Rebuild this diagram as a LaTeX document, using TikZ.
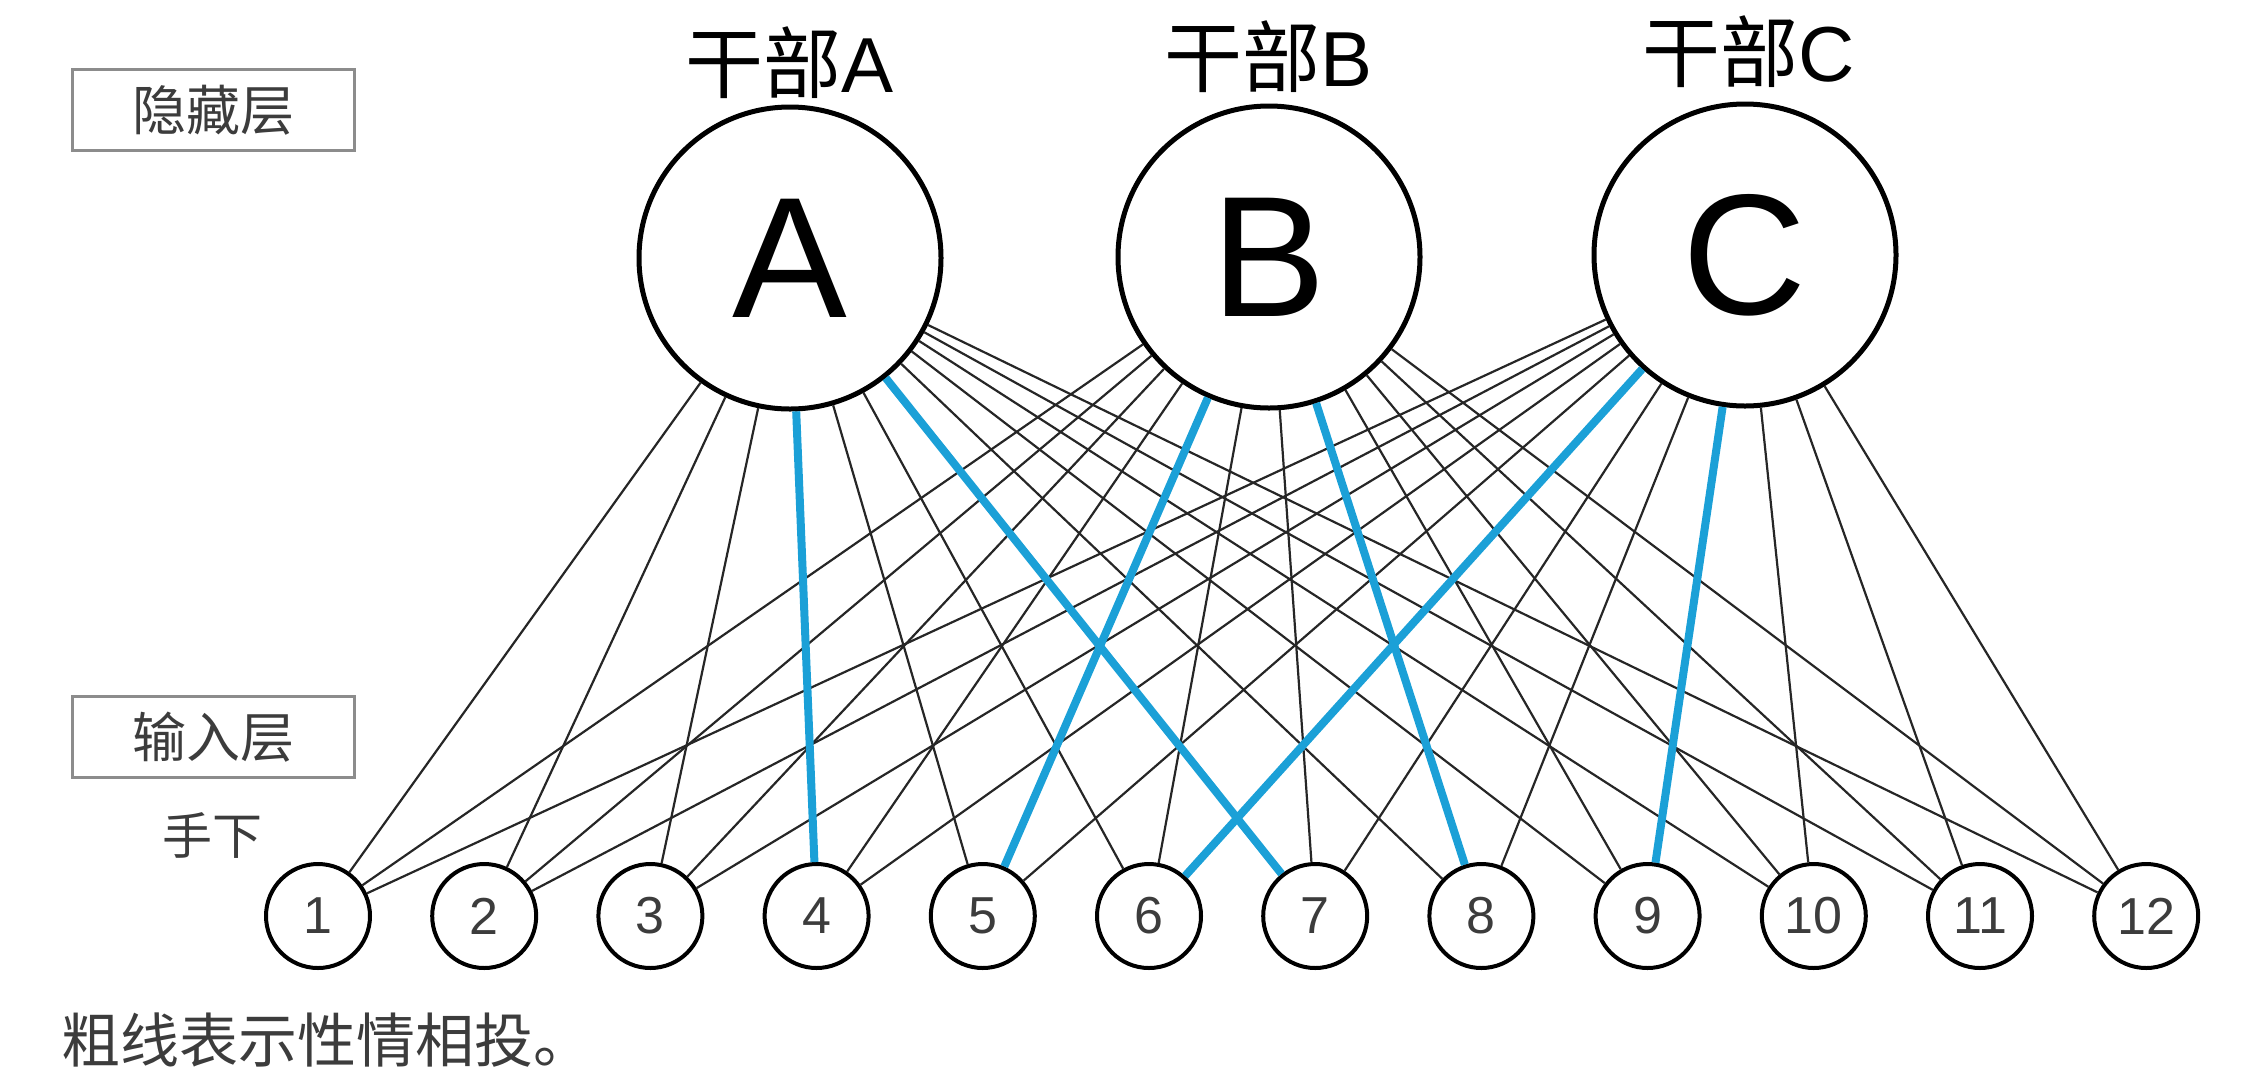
\documentclass[tikz,border=0pt]{standalone}
\usepackage{fontspec}
\setmainfont{Liberation Sans}
\newfontfamily\cjk{Noto Sans CJK SC}
\definecolor{tieblue}{RGB}{27,160,215}
\definecolor{txtgray}{RGB}{60,60,60}
\definecolor{boxgray}{RGB}{140,140,140}
\begin{document}
\begin{tikzpicture}[x=1pt,y=-1pt,
  boss/.style={circle, draw, line width=5pt, minimum size=302pt, inner sep=0pt, fill=white, font=\fontsize{172}{172}\selectfont},
  member/.style={circle, draw, line width=4pt, minimum size=104pt, inner sep=0pt, fill=white, text=txtgray, font=\fontsize{52}{52}\selectfont},
  link/.style={line width=2.2pt, black!85},
  tie/.style={line width=8pt, tieblue},
  layerbox/.style={draw=boxgray, line width=3pt, minimum width=282pt, minimum height=81pt, inner sep=0pt, text=txtgray, font=\cjk\fontsize{54}{54}\selectfont},
  bosslabel/.style={inner sep=0pt, font=\fontsize{78}{78}\selectfont},
  note/.style={inner sep=0pt, text=txtgray}
]
\useasboundingbox (0,0) rectangle (2249,1080);
% hidden layer
\node[boss] (A) at (790,258) {A};
\node[boss] (B) at (1269,257) {B};
\node[boss] (C) at (1745,255) {C};
\node[bosslabel] (lA) at (790,63) {{\cjk 干部}A};
\node[bosslabel] (lB) at (1268,57) {{\cjk 干部}B};
\node[bosslabel] (lC) at (1749,52) {{\cjk 干部}C};
% input layer
\foreach \i in {1,...,12} {
  \node[member] (n\i) at ({318+166.2*(\i-1)},916) {\i};
}
% connectors
\foreach \h in {A,B,C} {
  \foreach \i in {1,...,12} {
    \draw[link] (\h) -- (n\i);
  }
}
\draw[tie] (A) -- (n4);
\draw[tie] (A) -- (n7);
\draw[tie] (B) -- (n5);
\draw[tie] (B) -- (n8);
\draw[tie] (C) -- (n6);
\draw[tie] (C) -- (n9);
% side labels
\node[layerbox] (hid) at (213,110) {隐藏层};
\node[layerbox] (inp) at (213,737) {输入层};
\node[note, font=\cjk\fontsize{50}{50}\selectfont] (sub) at (212,835) {手下};
\node[note, anchor=west, font=\cjk\fontsize{59}{59}\selectfont] (cap) at (61,1040) {粗线表示性情相投。};
\end{tikzpicture}
\end{document}
